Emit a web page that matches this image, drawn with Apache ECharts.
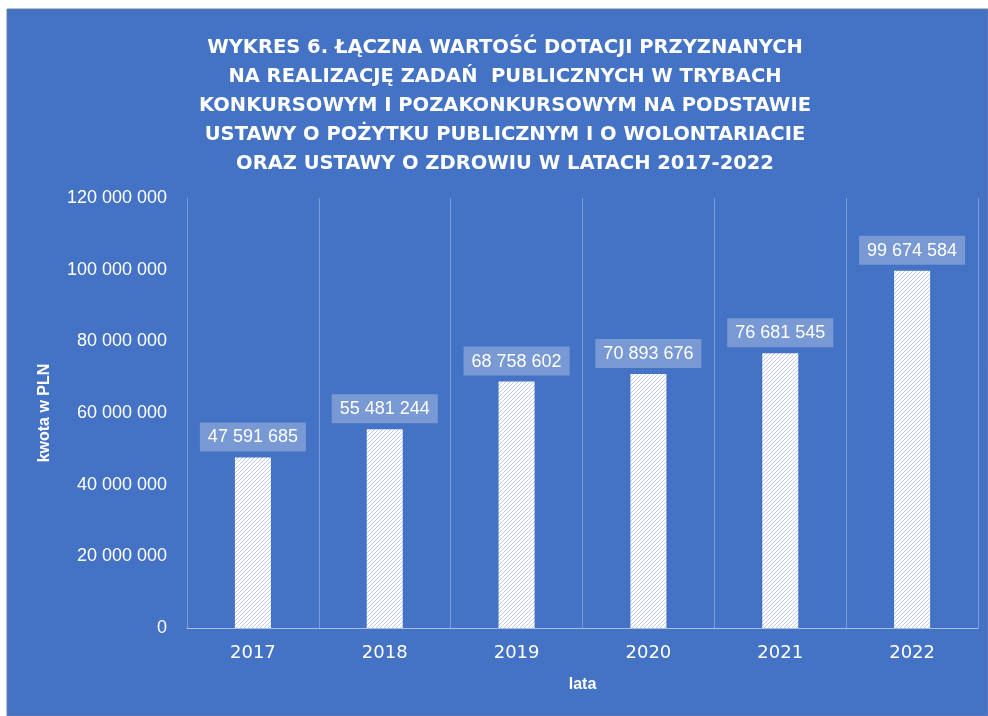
<!DOCTYPE html>
<html>
<head>
<meta charset="utf-8">
<script src="https://cdn.jsdelivr.net/npm/echarts@6/dist/echarts.min.js"></script>
<style>
  html, body { margin: 0; padding: 0; background: #fff; }
  #chart { width: 988px; height: 716px; }
</style>
</head>
<body>
<div id="chart"></div>
<script>
const years = ['2017', '2018', '2019', '2020', '2021', '2022'];
const values = [47591685, 55481244, 68758602, 70893676, 76681545, 99674584];
const yTicks = [0, 20000000, 40000000, 60000000, 80000000, 100000000, 120000000];

const titleText = 'WYKRES 6. ŁĄCZNA WARTOŚĆ DOTACJI PRZYZNANYCH\n' +
  'NA REALIZACJĘ ZADAŃ  PUBLICZNYCH W TRYBACH\n' +
  'KONKURSOWYM I POZAKONKURSOWYM NA PODSTAWIE\n' +
  'USTAWY O POŻYTKU PUBLICZNYM I O WOLONTARIACIE\n' +
  'ORAZ USTAWY O ZDROWIU W LATACH 2017-2022';

// liczby z odstępem co 3 cyfry
function fmt(v) {
  return String(Math.round(v)).replace(/\B(?=(\d{3})+(?!\d))/g, ' ');
}

// kreskowanie słupków
function hatch() {
  const c = document.createElement('canvas');
  c.width = 4; c.height = 4;
  const ctx = c.getContext('2d');
  ctx.fillStyle = '#ffffff';
  ctx.fillRect(0, 0, 4, 4);
  ctx.fillStyle = '#bccbee';
  for (let i = 0; i < 4; i++) ctx.fillRect(i, 3 - i, 1, 1);
  return c;
}

const myChart = echarts.init(document.getElementById('chart'));
myChart.setOption({
  animation: false,
  graphic: [{
    type: 'rect', z: -10, silent: true,
    shape: { x: 7, y: 9, width: 981, height: 707 },
    style: { fill: '#4472C4', stroke: '#6b7fa8', lineWidth: 1 }
  }],
  title: {
    text: titleText,
    left: 500,
    top: 28,
    textAlign: 'center',
    textStyle: {
      color: '#ffffff',
      fontFamily: 'DejaVu Sans',
      fontWeight: 'bold',
      fontSize: 19.5,
      lineHeight: 29.2
    }
  },
  grid: { left: 187, right: 10, top: 198, bottom: 88 },
  xAxis: {
    type: 'category',
    data: years,
    name: 'lata',
    nameLocation: 'middle',
    nameGap: 49,
    nameTextStyle: { color: '#fff', fontSize: 16, fontWeight: 'bold', fontFamily: 'Liberation Sans' },
    axisLine: { lineStyle: { color: 'rgba(255,255,255,0.55)', width: 1 } },
    axisTick: { show: false },
    splitLine: { show: true, lineStyle: { color: 'rgba(255,255,255,0.3)', width: 1 } },
    axisLabel: { color: '#fff', fontSize: 18, margin: 16, fontFamily: 'DejaVu Sans' }
  },
  yAxis: {
    type: 'value',
    min: 0,
    max: 120000000,
    interval: 20000000,
    name: 'kwota w PLN',
    nameLocation: 'middle',
    nameGap: 134,
    nameTextStyle: { color: '#fff', fontSize: 16, fontWeight: 'bold', fontFamily: 'Liberation Sans' },
    axisLine: { show: false },
    axisTick: { show: false },
    splitLine: { show: false },
    axisLabel: {
      color: '#fff', fontSize: 18, margin: 20, fontFamily: 'Liberation Sans',
      formatter: v => yTicks.indexOf(v) >= 0 ? fmt(v) : ''
    }
  },
  series: [{
    type: 'bar',
    data: values,
    barWidth: 36,
    itemStyle: { color: { image: hatch(), repeat: 'repeat' } },
    label: {
      show: true,
      position: 'top',
      distance: 6,
      formatter: p => fmt(p.value),
      color: '#fff',
      fontSize: 18,
      fontFamily: 'Liberation Sans',
      backgroundColor: 'rgba(255,255,255,0.28)',
      padding: [6, 8, 5, 8]
    }
  }]
});
</script>
</body>
</html>
